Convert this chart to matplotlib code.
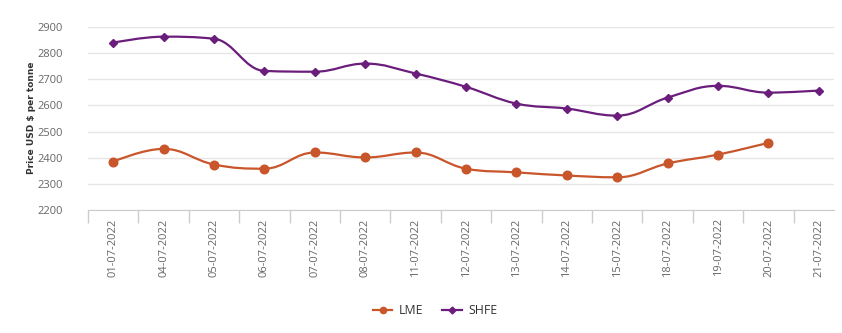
import matplotlib
matplotlib.use("Agg")
import matplotlib.pyplot as plt
from matplotlib.path import Path
import matplotlib.patches as mpatches
from matplotlib.lines import Line2D
import numpy as np

plt.rcParams['font.family'] = ['Open Sans', 'DejaVu Sans']

# Data
dates = ["01-07-2022", "04-07-2022", "05-07-2022", "06-07-2022", "07-07-2022",
         "08-07-2022", "11-07-2022", "12-07-2022", "13-07-2022", "14-07-2022",
         "15-07-2022", "18-07-2022", "19-07-2022", "20-07-2022", "21-07-2022"]
lme = [2385, 2434, 2374, 2358, 2420, 2401, 2420, 2358, 2344, 2332, 2325, 2378, 2412, 2457]
shfe = [2840, 2863, 2855, 2732, 2729, 2760, 2722, 2671, 2607, 2588, 2561, 2630, 2675, 2649, 2657]

LME_COLOR = '#c9552b'
SHFE_COLOR = '#6b1d7c'


# Highcharts-style spline: cubic bezier through each point
def spline_path(xs, ys, smoothing=1.5):
    n = len(xs)
    denom = smoothing + 1
    left = [None] * n
    right = [None] * n
    for i in range(n):
        x, y = xs[i], ys[i]
        if i == 0 or i == n - 1:
            left[i] = (x, y)
            right[i] = (x, y)
            continue
        px, py = xs[i - 1], ys[i - 1]
        nx, ny = xs[i + 1], ys[i + 1]
        lx = (smoothing * x + px) / denom
        ly = (smoothing * y + py) / denom
        rx = (smoothing * x + nx) / denom
        ry = (smoothing * y + ny) / denom
        if rx != lx:
            corr = ((ry - ly) * (rx - x)) / (rx - lx) + y - ry
            ly += corr
            ry += corr
        if ly > py and ly > y:
            ly = max(py, y)
            ry = 2 * y - ly
        elif ly < py and ly < y:
            ly = min(py, y)
            ry = 2 * y - ly
        if ry > ny and ry > y:
            ry = max(ny, y)
            ly = 2 * y - ry
        elif ry < ny and ry < y:
            ry = min(ny, y)
            ly = 2 * y - ry
        left[i] = (lx, ly)
        right[i] = (rx, ry)
    verts = [(xs[0], ys[0])]
    codes = [Path.MOVETO]
    for i in range(1, n):
        verts += [right[i - 1], left[i], (xs[i], ys[i])]
        codes += [Path.CURVE4] * 3
    return Path(verts, codes)


fig = plt.figure(figsize=(8.42, 3.33), dpi=100)
ax = fig.add_axes([88 / 842, 1 - 210 / 333, (834 - 88) / 842, (210 - 27) / 333])

for vals, color, marker, ms in [(lme, LME_COLOR, 'o', 6.2), (shfe, SHFE_COLOR, 'D', 4.2)]:
    xs = list(range(len(vals)))
    path = spline_path(xs, vals)
    ax.add_patch(mpatches.PathPatch(path, facecolor='none', edgecolor=color, lw=1.6, zorder=3))
    ax.plot(xs, vals, linestyle='none', marker=marker, markersize=ms, color=color, zorder=4)

ax.set_xlim(-0.5, 14.3)
ax.set_ylim(2200, 2900)
ax.set_yticks(range(2200, 3000, 100))
ax.yaxis.grid(True, color='#e6e6e6', lw=1)
ax.set_axisbelow(True)

ax.set_xticks(range(len(dates)))
ax.set_xticklabels(dates, rotation=90, fontsize=8, color='#666666')
ax.set_xticks(np.arange(-0.5, 14.5, 1), minor=True)
ax.tick_params(axis='x', which='major', length=0, pad=6)
ax.tick_params(axis='x', which='minor', length=9, color='#cccccc', width=1)
ax.tick_params(axis='y', length=0, labelsize=8, labelcolor='#666666', pad=18)

for side in ['top', 'right', 'left']:
    ax.spines[side].set_visible(False)
ax.spines['bottom'].set_color('#cccccc')

fig.text(32 / 842, 1 - 118 / 333, 'Price USD $ per tonne', rotation=90, ha='center', va='center',
         fontsize=6.5, fontweight='bold', color='#333333', family='DejaVu Sans')

handles = [Line2D([], [], color=LME_COLOR, marker='o', markersize=4.5, lw=1.6),
           Line2D([], [], color=SHFE_COLOR, marker='D', markersize=3.5, lw=1.6)]
fig.legend(handles, ['LME', 'SHFE'], loc='center', bbox_to_anchor=(435 / 842, 1 - 311 / 333),
           ncol=2, frameon=False, fontsize=8.8, handlelength=1.6, columnspacing=1.6,
           handletextpad=0.5, labelcolor='#333333')

fig.savefig('out.png', dpi=100)
